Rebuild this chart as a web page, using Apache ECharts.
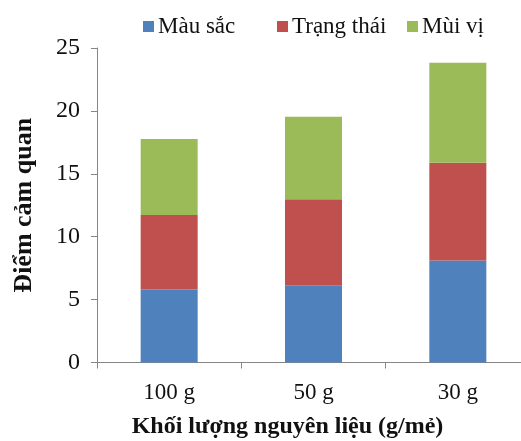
<!DOCTYPE html>
<html><head><meta charset="utf-8">
<script src="https://cdn.jsdelivr.net/npm/echarts@6/dist/echarts.min.js"></script>
<style>html,body{margin:0;padding:0;background:#fff}#c{width:521px;height:441px}</style>
</head><body><div id="c"></div>
<script>
var categories = ['100 g', '50 g', '30 g'];
var mauSac = [5.8, 6.15, 8.1];
var trangThai = [5.92, 6.82, 7.78];
var muiVi = [6.05, 6.57, 7.95];
var seriesNames = ['Màu sắc', 'Trạng thái', 'Mùi vị'];
var colors = ['#4F81BD', '#C0504D', '#9BBB59'];
var yTicks = [0, 5, 10, 15, 20, 25];

var font = 'Liberation Serif, Times New Roman, serif';
var chart = echarts.init(document.getElementById('c'), null, {renderer: 'canvas'});
var legendLefts = [138, 272, 402];
var values = [mauSac, trangThai, muiVi];
chart.setOption({
  animation: false,
  color: colors,
  legend: seriesNames.map(function (n, i) {
    return {
      data: [n], left: legendLefts[i], top: 10,
      icon: 'rect', itemWidth: 11, itemHeight: 11, itemGap: 0,
      textStyle: {fontFamily: font, fontSize: 23, color: '#111', padding: [0, 0, 0, -1]}
    };
  }),
  grid: {left: 97, right: -9, top: 48, bottom: 78.5, containLabel: false, outerBoundsMode: 'none'},
  xAxis: {
    type: 'category', data: categories,
    name: 'Khối lượng nguyên liệu (g/mẻ)', nameLocation: 'middle', nameGap: 52,
    nameTextStyle: {fontFamily: font, fontSize: 24, fontWeight: 'bold', color: '#111', padding: [0, 52, 0, 0]},
    axisLine: {lineStyle: {color: '#868686', width: 1}},
    axisTick: {show: true, length: 6, lineStyle: {color: '#868686'}},
    axisLabel: {fontFamily: font, fontSize: 23, color: '#111', margin: 19}
  },
  yAxis: {
    type: 'value', min: yTicks[0], max: yTicks[yTicks.length - 1], interval: 5,
    name: 'Điểm cảm quan', nameLocation: 'middle', nameGap: 60,
    nameTextStyle: {fontFamily: font, fontSize: 26, fontWeight: 'bold', color: '#111'},
    axisLine: {show: true, lineStyle: {color: '#868686', width: 1}},
    axisTick: {show: true, length: 6, lineStyle: {color: '#868686'}},
    axisLabel: {fontFamily: font, fontSize: 24, color: '#111', margin: 17},
    splitLine: {show: false}
  },
  series: seriesNames.map(function (n, i) {
    return {name: n, type: 'bar', stack: 'total', barWidth: 57, data: values[i],
      itemStyle: {color: colors[i]}};
  })
});
</script></body></html>
